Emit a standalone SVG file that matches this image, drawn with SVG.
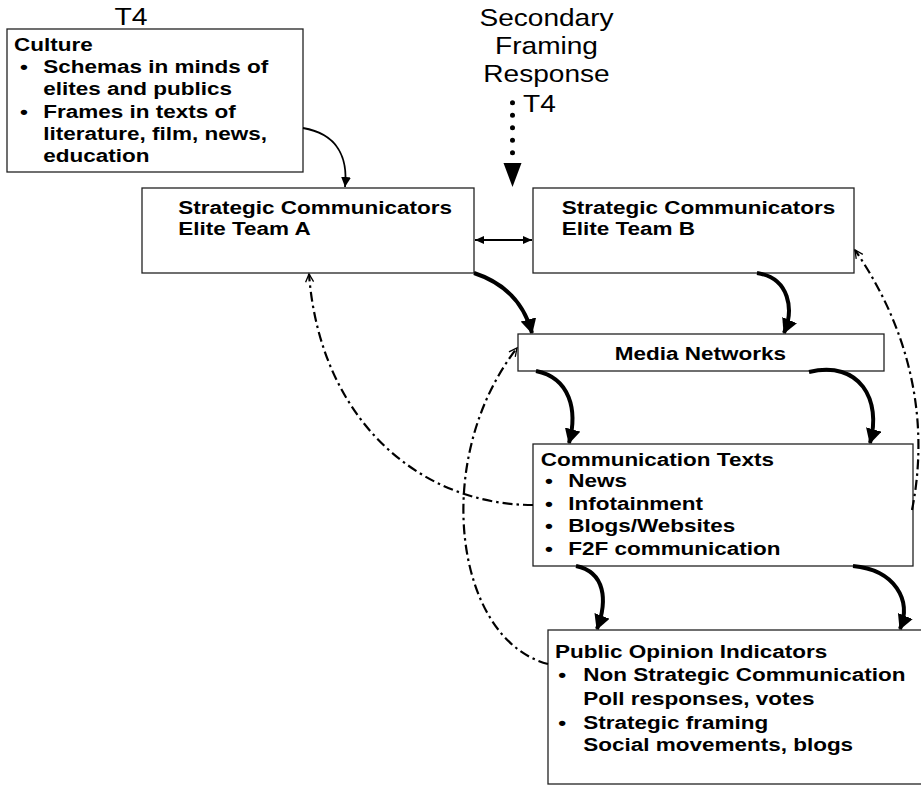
<svg xmlns="http://www.w3.org/2000/svg" width="921" height="786" viewBox="0 0 921 786">
<style>
.box{fill:#fff;stroke:#222;stroke-width:1.3}
.b{font-family:"Liberation Sans",Arial,sans-serif;font-weight:bold;font-size:18px;fill:#000}
.n{font-family:"Liberation Sans",Arial,sans-serif;font-size:24px;fill:#000}
.thick{fill:none;stroke:#000;stroke-width:4}
.thin{fill:none;stroke:#000;stroke-width:1.8}
.dd{fill:none;stroke:#000;stroke-width:2.2;stroke-dasharray:10 4 2.5 4}
</style>
<defs>
<marker id="ah" markerUnits="userSpaceOnUse" markerWidth="18" markerHeight="18" refX="14" refY="8" orient="auto"><path d="M0,0 L15,8 L0,16 z" fill="#000"/></marker>
<marker id="as" markerUnits="userSpaceOnUse" markerWidth="12" markerHeight="12" refX="10" refY="5" orient="auto"><path d="M0,0 L10,5 L0,10 z" fill="#000"/></marker>
<marker id="ad" markerUnits="userSpaceOnUse" markerWidth="12" markerHeight="12" refX="9" refY="5" orient="auto-start-reverse"><path d="M0,0 L9,4 L0,8 z" fill="#000" transform="translate(0,1)"/></marker>
<marker id="ao" markerUnits="userSpaceOnUse" markerWidth="12" markerHeight="12" refX="9" refY="5" orient="auto"><path d="M1,1 L9,5 L1,9" fill="none" stroke="#000" stroke-width="1.3"/></marker>
</defs>

<g id="label-t4">
<text class="n" transform="translate(131,25) scale(1.18,1)" text-anchor="middle" font-size="23">T4</text>
</g>

<g id="label-secondary">
<g transform="translate(546.5,0) scale(1.17,1)">
<text class="n" x="0" y="26" text-anchor="middle">Secondary</text>
<text class="n" x="0" y="54" text-anchor="middle">Framing</text>
<text class="n" x="0" y="82" text-anchor="middle">Response</text>
</g>
<text class="n" transform="translate(523,112) scale(1.17,1)">T4</text>
</g>

<g id="culture">
<rect class="box" x="7" y="29" width="296" height="143"/>
<g transform="translate(14,0) scale(1.25,1)">
<text class="b" x="0" y="51">Culture</text>
<text class="b" x="4.8" y="73">•</text>
<text class="b" x="23.4" y="73">Schemas in minds of</text>
<text class="b" x="23.4" y="95.3">elites and publics</text>
<text class="b" x="4.8" y="117.6">•</text>
<text class="b" x="23.4" y="117.6">Frames in texts of</text>
<text class="b" x="23.4" y="139.6">literature, film, news,</text>
<text class="b" x="23.4" y="162">education</text>
</g>
</g>

<g id="team-a">
<rect class="box" x="142" y="188" width="332" height="85"/>
<g transform="translate(178.3,0) scale(1.25,1)">
<text class="b" x="0" y="214.5">Strategic Communicators</text>
<text class="b" x="0" y="235.5">Elite Team A</text>
</g>
</g>

<g id="team-b">
<rect class="box" x="533" y="188" width="321" height="85"/>
<g transform="translate(561.7,0) scale(1.25,1)">
<text class="b" x="0" y="214.5">Strategic Communicators</text>
<text class="b" x="0" y="235.5">Elite Team B</text>
</g>
</g>

<g id="media">
<rect class="box" x="518" y="334" width="366" height="37"/>
<text class="b" transform="translate(614.8,359.5) scale(1.25,1)">Media Networks</text>
</g>

<g id="comm-texts">
<rect class="box" x="533" y="444" width="380" height="122"/>
<g transform="translate(540.7,0) scale(1.25,1)">
<text class="b" x="0" y="466.5">Communication Texts</text>
<text class="b" x="3.5" y="487.5">•</text>
<text class="b" x="22" y="487.5">News</text>
<text class="b" x="3.5" y="509.7">•</text>
<text class="b" x="22" y="509.7">Infotainment</text>
<text class="b" x="3.5" y="532">•</text>
<text class="b" x="22" y="532">Blogs/Websites</text>
<text class="b" x="3.5" y="555">•</text>
<text class="b" x="22" y="555">F2F communication</text>
</g>
</g>

<g id="public-opinion">
<rect class="box" x="548" y="630" width="390" height="154"/>
<g transform="translate(555,0) scale(1.25,1)">
<text class="b" x="0" y="658">Public Opinion Indicators</text>
<text class="b" x="2.7" y="681">•</text>
<text class="b" x="22.6" y="681">Non Strategic Communication</text>
<text class="b" x="22.6" y="705">Poll responses, votes</text>
<text class="b" x="2.7" y="729">•</text>
<text class="b" x="22.6" y="729">Strategic framing</text>
<text class="b" x="22.6" y="751.5">Social movements, blogs</text>
</g>
</g>

<g id="connectors">
<line x1="512.5" y1="102.7" x2="512.5" y2="153" stroke="#000" stroke-width="5" stroke-linecap="round" stroke-dasharray="0 12.5"/>
<path d="M503.5,163 L521.5,163 L512.5,187 z" fill="#000"/>
<path class="thin" d="M303,128 C338,134 348,158 345,187" marker-end="url(#as)"/>
<line class="thin" x1="475" y1="240" x2="532" y2="240" stroke-width="1.5" marker-start="url(#ad)" marker-end="url(#ad)"/>
<path class="thick" d="M474,273 Q520,288 532,333" marker-end="url(#ah)"/>
<path class="thick" d="M757,273 C790,278 794,310 784,333" marker-end="url(#ah)"/>
<path class="thick" d="M536,371 C570,378 578,410 569,443" marker-end="url(#ah)"/>
<path class="thick" d="M809,372 C860,360 882,400 870,443" marker-end="url(#ah)"/>
<path class="thick" d="M576,566 C605,572 608,600 597,629" marker-end="url(#ah)"/>
<path class="thick" d="M853,566 C895,570 912,600 900,629" marker-end="url(#ah)"/>
<path class="dd" d="M533,505 C420,505 320,420 309,274" marker-end="url(#ao)"/>
<path class="dd" d="M548,664 C455,640 430,460 517,348" marker-end="url(#ao)"/>
<path class="dd" d="M912,510 C930,420 910,330 855,250" marker-end="url(#ao)"/>
</g>
</svg>
